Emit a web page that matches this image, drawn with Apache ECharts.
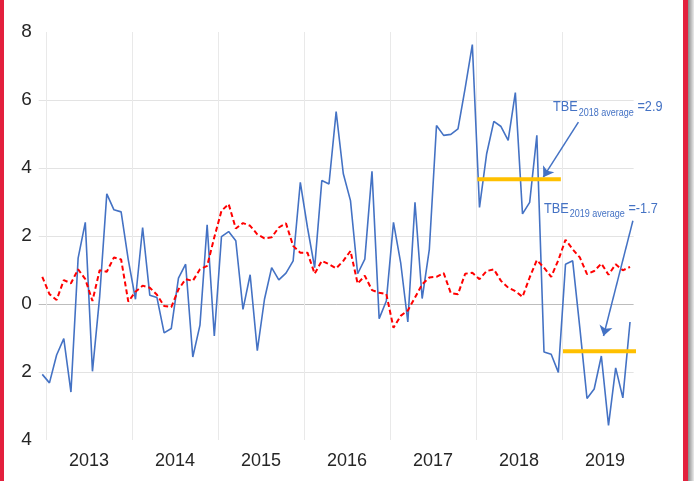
<!DOCTYPE html>
<html>
<head>
<meta charset="utf-8">
<script src="https://cdn.jsdelivr.net/npm/echarts@6/dist/echarts.min.js"></script>
<style>
html, body { margin: 0; padding: 0; background: #fff; }
#wrap { position: relative; width: 694px; height: 481px; overflow: hidden; }
#chart { position: absolute; left: 0; top: 0; width: 694px; height: 481px; }
.edge-l { position: absolute; left: 0; top: 0; width: 4px; height: 481px; background: #e3203d; }
.edge-r { position: absolute; left: 683px; top: 0; width: 5px; height: 481px; background: #e3203d; }
.shade-r { position: absolute; left: 688px; top: 0; width: 6px; height: 481px; background: linear-gradient(to right, #8a8a8a, #ececec); }
</style>
</head>
<body>
<div id="wrap">
  <div id="chart"></div>
  <div class="edge-l"></div>
  <div class="edge-r"></div>
  <div class="shade-r"></div>
</div>
<script>
// monthly points, Dec 2012 .. Oct 2019
var years = ['2013', '2014', '2015', '2016', '2017', '2018', '2019'];
var yTickLabels = ['4', '2', '0', '2', '4', '6', '8'];

var tbe = [
  -2.07, -2.32, -1.5, -1.02, -2.59, 1.35, 2.4, -1.98, 0.2, 3.24,
  2.77, 2.71, 1.3, 0.14, 2.25, 0.26, 0.19, -0.85, -0.72, 0.76,
  1.17, -1.56, -0.62, 2.33, -0.94, 1.98, 2.13, 1.86, -0.16, 0.86,
  -1.37, 0.14, 1.07, 0.71, 0.91, 1.27, 3.58, 2.25, 1.07, 3.63,
  3.53, 5.66, 3.83, 3.04, 0.89, 1.32, 3.9, -0.43, 0.09, 2.4,
  1.22, -0.53, 2.99, 0.16, 1.61, 5.25, 4.96, 4.99, 5.15, 6.35,
  7.63, 2.84, 4.42, 5.37, 5.22, 4.81, 6.22, 2.65, 2.99, 4.96,
  -1.41, -1.48, -2.01, 1.17, 1.27, -0.7, -2.78, -2.5, -1.53, -3.57,
  -1.88, -2.76, -0.53
];

var avgLine = [
  0.8, 0.29, 0.12, 0.7, 0.61, 1.02, 0.73, 0.09, 0.99, 0.95,
  1.37, 1.31, 0.07, 0.36, 0.54, 0.48, 0.27, -0.06, -0.09, 0.43,
  0.73, 0.68, 1.02, 1.12, 1.96, 2.74, 2.94, 2.22, 2.38, 2.3,
  2.05, 1.93, 1.96, 2.25, 2.37, 1.71, 1.51, 1.51, 0.89, 1.27,
  1.17, 1.05, 1.27, 1.56, 0.6, 0.83, 0.41, 0.33, 0.29, -0.7,
  -0.35, -0.19, 0.19, 0.58, 0.78, 0.8, 0.91, 0.32, 0.29, 0.89,
  0.92, 0.73, 0.97, 1.02, 0.68, 0.48, 0.38, 0.21, 0.78, 1.29,
  1.07, 0.8, 1.29, 1.89, 1.61, 1.37, 0.88, 0.97, 1.19, 0.86,
  1.17, 0.99, 1.09
];

// yearly average bars (x in month index units) and arrows pointing to them
var avg2018 = [[60.7, 3.67], [72.35, 3.67]];
var avg2019 = [[72.65, -1.39], [83.2, -1.39]];
var arrow2018 = [[74.8, 5.35], [69.9, 3.73]];
var arrow2019 = [[82.4, 2.45], [78.3, -0.94]];

var months = [];
for (var k = 0; k < tbe.length; k++) {
  var m = (11 + k) % 12 + 1;
  var y = 2012 + Math.floor((11 + k) / 12);
  months.push(y + '-' + (m < 10 ? '0' + m : m));
}

var FONT = "'Liberation Sans', Arial, sans-serif";
var NARROW = 0.82;   // squeeze Liberation Sans to a narrow face for the notes
var BLUE = '#4472c4';

var chart = echarts.init(document.getElementById('chart'));

var option = {
  animation: false,
  grid: { left: 38.7, right: 60.4, top: 32, bottom: 41 },
  xAxis: [{
    type: 'category',
    data: months,
    boundaryGap: true,
    axisLine: { show: false },
    axisTick: { show: false },
    axisLabel: {
      interval: function (i) { return i % 12 === 7; },
      formatter: function (v, i) { return years[Math.floor(i / 12)]; },
      color: '#262626',
      fontFamily: FONT,
      fontSize: 18,
      margin: 12,
      padding: [0, 7, 0, 0]
    },
    splitLine: {
      show: true,
      interval: function (i) { return i % 12 === 1; },
      lineStyle: {
        color: ['#e9e9e9', '#e9e9e9', '#e9e9e9', '#e9e9e9', '#e9e9e9', '#e9e9e9', '#e9e9e9', 'rgba(0,0,0,0)'],
        width: 1
      }
    }
  }, {
    type: 'value',
    min: -0.5,
    max: months.length - 0.5,
    show: false
  }],
  yAxis: {
    type: 'value',
    min: -4,
    max: 8,
    interval: 2,
    axisLine: { show: false },
    axisTick: { show: false },
    axisLabel: {
      formatter: function (v, i) { return yTickLabels[i]; },
      color: '#262626',
      fontFamily: FONT,
      fontSize: 19,
      margin: 7
    },
    splitLine: {
      lineStyle: {
        color: ['rgba(0,0,0,0)', '#e3e3e3', '#bdbdbd', '#e3e3e3', '#e3e3e3', '#e3e3e3', 'rgba(0,0,0,0)'],
        width: 1
      }
    }
  },
  series: [
    {
      name: 'TBE',
      type: 'line',
      data: tbe,
      symbol: 'none',
      lineStyle: { color: BLUE, width: 1.6 },
      z: 3
    },
    {
      name: 'Average',
      type: 'line',
      data: avgLine,
      symbol: 'none',
      lineStyle: { color: '#ff0000', width: 2, type: [5, 3] },
      z: 4
    },
    {
      name: 'avg2018',
      type: 'line',
      xAxisIndex: 1,
      data: avg2018,
      symbol: 'none',
      clip: false,
      lineStyle: { color: '#ffc000', width: 4, cap: 'butt' },
      z: 5
    },
    {
      name: 'avg2019',
      type: 'line',
      xAxisIndex: 1,
      data: avg2019,
      symbol: 'none',
      clip: false,
      lineStyle: { color: '#ffc000', width: 4, cap: 'butt' },
      z: 5,
      markLine: {
        silent: true,
        symbol: ['none', 'arrow'],
        symbolSize: 10,
        label: { show: false },
        lineStyle: { color: BLUE, width: 1.5, type: 'solid' },
        data: [
          [{ coord: arrow2018[0] }, { coord: arrow2018[1] }],
          [{ coord: arrow2019[0] }, { coord: arrow2019[1] }]
        ]
      }
    }
  ]
};

chart.setOption(option);

// annotation labels with subscript
var ctx = document.createElement('canvas').getContext('2d');
function textWidth(t, size) {
  ctx.font = size + 'px ' + FONT;
  return ctx.measureText(t).width * NARROW;
}
function tbeLabel(x, y, sub, tail) {
  var big = 15.5, small = 11;
  var w1 = textWidth('TBE', big);
  var w2 = textWidth(sub, small);
  function txt(t, size, px, py) {
    return {
      type: 'text', x: px, y: py, scaleX: NARROW,
      style: { text: t, fontSize: size, fill: BLUE, fontFamily: FONT, verticalAlign: 'middle', align: 'left' }
    };
  }
  return [
    txt('TBE', big, x, y),
    txt(sub, small, x + w1 + 1, y + 5.5),
    txt(' ' + tail, big, x + w1 + 1 + w2, y)
  ];
}
var g = tbeLabel(553, 107, '2018 average', '=2.9').concat(tbeLabel(544, 208.5, '2019 average', '=-1.7'));
chart.setOption({ graphic: g });
</script>
</body>
</html>
